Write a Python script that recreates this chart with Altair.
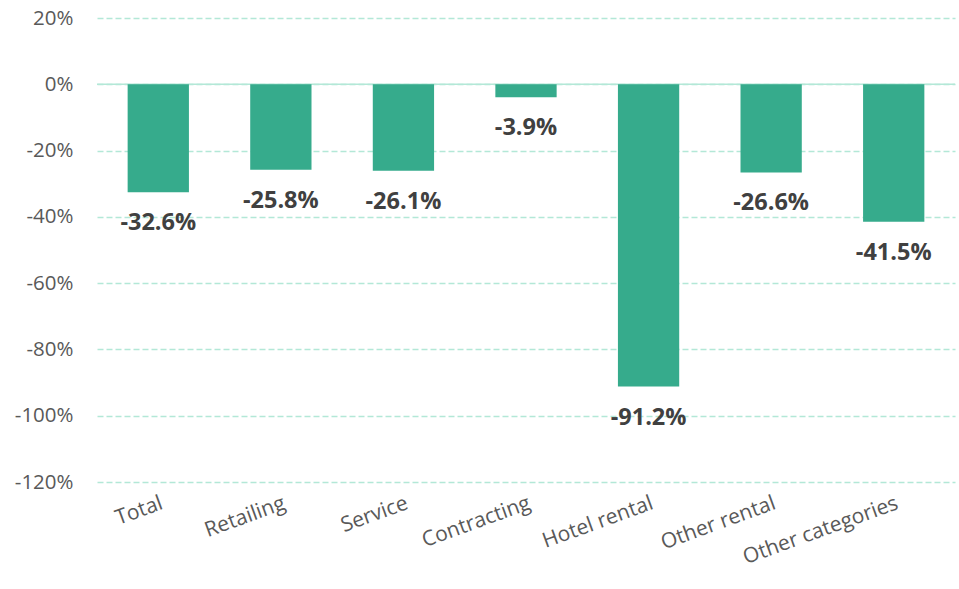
import altair as alt
import pandas as pd

categories = ["Total", "Retailing", "Service", "Contracting", "Hotel rental", "Other rental", "Other categories"]
values = [-32.6, -25.8, -26.1, -3.9, -91.2, -26.6, -41.5]
y_ticks = [20, 0, -20, -40, -60, -80, -100, -120]

df = pd.DataFrame({"cat": categories, "val": values})
df["label"] = [f"{v:.1f}%" for v in values]

GRID = "#B3E8D7"

x = alt.X("cat:N", sort=categories, title=None,
          scale=alt.Scale(paddingInner=0.5, paddingOuter=0.25),
          axis=alt.Axis(labelAngle=340, labelAlign="right", labelBaseline="top",
                        labelFont="Open Sans", labelFontSize=21, labelColor="#595959",
                        labelPadding=10, domain=False, ticks=False, grid=False))
y = alt.Y("val:Q", title=None,
          scale=alt.Scale(domain=[-120, 20], nice=False, zero=False),
          axis=alt.Axis(values=y_ticks, labelExpr="datum.value + '%'",
                        labelFont="Open Sans", labelFontSize=20.5, labelColor="#595959",
                        labelPadding=24, domain=False, ticks=False,
                        grid=True, gridColor=GRID, gridDash=[6, 3], gridWidth=1.6))

bars = alt.Chart(df).mark_bar(color="#36AB8C").encode(x=x, y=y)

zero = alt.Chart(pd.DataFrame({"z": [0]})).mark_rule(color=GRID, strokeWidth=1.6).encode(
    y=alt.Y("z:Q", scale=alt.Scale(domain=[-120, 20], nice=False, zero=False)))

text = alt.Chart(df).mark_text(baseline="middle", dy=31, font="Open Sans", fontSize=23.5,
                               fontWeight="bold", color="#404040").encode(
    x=alt.X("cat:N", sort=categories), y=alt.Y("val:Q"), text="label:N")

chart = alt.layer(zero, bars, text).properties(
    width=858, height=464,
    autosize=alt.AutoSizeParams(type="none"),
    padding={"left": 97, "top": 18, "right": 4, "bottom": 107},
).configure(background="white").configure_view(stroke=None)

chart.save("out.html", embed_options={"renderer": "svg", "actions": False})
